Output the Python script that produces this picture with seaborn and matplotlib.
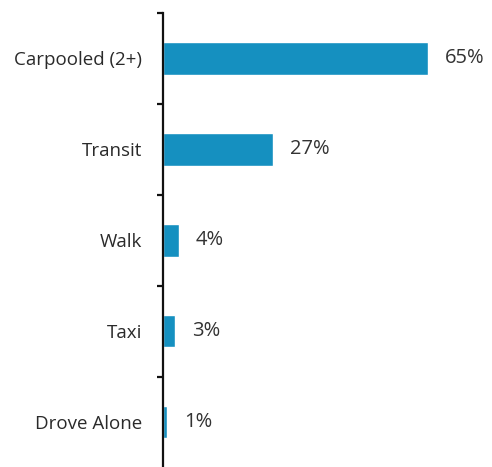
import matplotlib
matplotlib.use("Agg")
import matplotlib.pyplot as plt
from matplotlib.ticker import FixedLocator
import seaborn as sns
import pandas as pd

# Commute mode shares
modes = ["Carpooled (2+)", "Transit", "Walk", "Taxi", "Drove Alone"]
shares = [65, 27, 4, 3, 1]
labels = ["65%", "27%", "4%", "3%", "1%"]

df = pd.DataFrame({"mode": modes, "share": shares})

sns.set_theme(style="white")
plt.rcParams["font.family"] = ["Open Sans", "DejaVu Sans"]

fig = plt.figure(figsize=(4.92, 4.67), dpi=100)
ax = fig.add_axes([163 / 492, -5 / 467, 329 / 492, 459 / 467])

sns.barplot(data=df, x="share", y="mode", orient="h", color="#1590c0",
            saturation=1, width=0.36, ax=ax)

for patch, txt in zip(ax.patches, labels):
    ax.annotate(txt, (patch.get_width(), patch.get_y() + patch.get_height() / 2),
                xytext=(12, 0), textcoords="offset points",
                ha="left", va="center", fontsize=14.5, color="#333333")

ax.set_xlim(0, 80.6)
ax.set_ylim(4.55, -0.5)
ax.set_xlabel("")
ax.set_ylabel("")
ax.set_xticks([])

for side in ["top", "right", "bottom"]:
    ax.spines[side].set_visible(False)
ax.spines["left"].set_linewidth(1.6)
ax.spines["left"].set_color("#111111")

ax.tick_params(axis="y", which="major", length=0, pad=15,
               labelsize=13.5, labelcolor="#2a2a2a")
ax.yaxis.set_minor_locator(FixedLocator([-0.5, 0.5, 1.5, 2.5, 3.5]))
ax.tick_params(axis="y", which="minor", left=True, length=4, width=1.6,
               color="#111111")

fig.savefig("out.png", dpi=100, facecolor="white")
